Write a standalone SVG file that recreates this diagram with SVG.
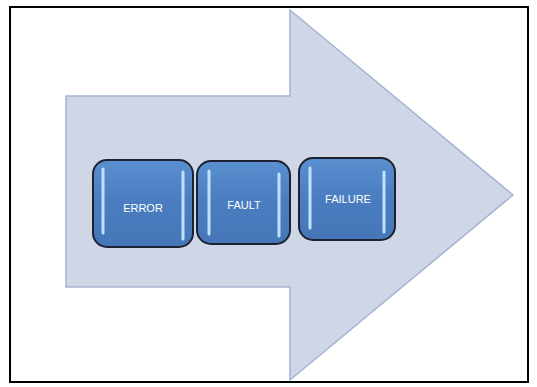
<svg xmlns="http://www.w3.org/2000/svg" width="537" height="387" viewBox="0 0 537 387">
<defs>
<linearGradient id="boxg" x1="0" y1="0" x2="0" y2="1">
<stop offset="0" stop-color="#5a8fd0"/>
<stop offset="0.5" stop-color="#4a7dc0"/>
<stop offset="1" stop-color="#4577b8"/>
</linearGradient>
<style>
.box{fill:url(#boxg);stroke:#1c2230;stroke-width:2}
.bar{stroke:#bfe3ff;stroke-width:3;stroke-linecap:round}
.lbl{font-family:"Liberation Sans",Arial,sans-serif;font-size:11px;fill:#ffffff;text-anchor:middle}
</style>
</defs>
<rect x="0" y="0" width="537" height="387" fill="#ffffff"/>
<rect x="10" y="7" width="518" height="375" fill="none" stroke="#000000" stroke-width="2"/>
<g id="arrow">
<polygon points="66,96 290,96 290,10 513,195 290,380 290,287 66,287" fill="#cfd7e7" stroke="#a3b3d2" stroke-width="1.5"/>
</g>
<g id="error">
<rect class="box" x="93" y="160" width="100" height="87" rx="14"/>
<line class="bar" x1="103" y1="169" x2="103" y2="233"/>
<line class="bar" x1="183" y1="172" x2="183" y2="239"/>
<text class="lbl" x="143" y="212">ERROR</text>
</g>
<g id="fault">
<rect class="box" x="197" y="161" width="93" height="83" rx="14"/>
<line class="bar" x1="209" y1="171" x2="209" y2="234"/>
<line class="bar" x1="279" y1="174" x2="279" y2="236"/>
<text class="lbl" x="244" y="209">FAULT</text>
</g>
<g id="failure">
<rect class="box" x="299" y="158" width="96" height="82" rx="14"/>
<line class="bar" x1="310" y1="168" x2="310" y2="228"/>
<line class="bar" x1="384" y1="172" x2="384" y2="232"/>
<text class="lbl" x="348" y="203">FAILURE</text>
</g>
<g id="connectors"></g>
</svg>
